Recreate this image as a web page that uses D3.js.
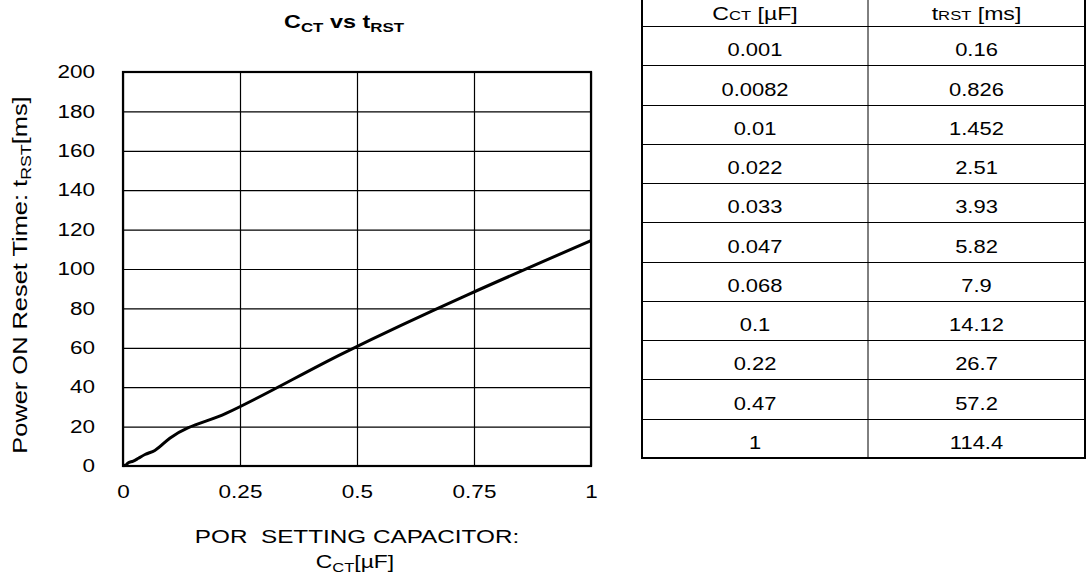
<!DOCTYPE html>
<html>
<head>
<meta charset="utf-8">
<script src="https://cdn.jsdelivr.net/npm/d3@7"></script>
<style>
  body { margin: 0; background: #fff; }
  svg { font-family: "Liberation Sans", Arial, sans-serif; }
</style>
</head>
<body>
<svg id="chart" width="1088" height="578"></svg>
<script>
var cct = [0.001, 0.0082, 0.01, 0.022, 0.033, 0.047, 0.068, 0.1, 0.22, 0.47, 1];
var trst = [0.16, 0.826, 1.452, 2.51, 3.93, 5.82, 7.9, 14.12, 26.7, 57.2, 114.4];
var cctLabels = ['0.001', '0.0082', '0.01', '0.022', '0.033', '0.047', '0.068', '0.1', '0.22', '0.47', '1'];
var trstLabels = ['0.16', '0.826', '1.452', '2.51', '3.93', '5.82', '7.9', '14.12', '26.7', '57.2', '114.4'];
var xTicks = [0, 0.25, 0.5, 0.75, 1];
var yTicks = [0, 20, 40, 60, 80, 100, 120, 140, 160, 180, 200];

var svg = d3.select('#chart');

// 文字横向拉宽（原图字体较宽）
function stretch(sel, s) {
    sel.each(function () {
        var t = d3.select(this);
        var x0 = +t.attr('x') || 0, y0 = +t.attr('y') || 0;
        var tr = t.attr('transform') || '';
        t.attr('x', 0).attr('y', 0)
            .attr('transform', tr + ' translate(' + x0 + ',' + y0 + ') scale(' + s + ',1)');
    });
}

var plot = { left: 123, top: 72, right: 591, bottom: 466 };

var x = d3.scaleLinear().domain([0, 1]).range([plot.left, plot.right]);
var y = d3.scaleLinear().domain([0, 200]).range([plot.bottom, plot.top]);

// 网格
svg.append('g')
    .attr('transform', 'translate(0,' + plot.bottom + ')')
    .call(d3.axisBottom(x).tickValues(xTicks).tickSize(-(plot.bottom - plot.top)).tickFormat(''))
    .call(g => g.select('.domain').remove())
    .selectAll('line').attr('stroke', '#000').attr('stroke-width', 1.2);

svg.append('g')
    .attr('transform', 'translate(' + plot.left + ',0)')
    .call(d3.axisLeft(y).tickValues(yTicks).tickSize(-(plot.right - plot.left)).tickFormat(''))
    .call(g => g.select('.domain').remove())
    .selectAll('line').attr('stroke', '#000').attr('stroke-width', 1.2);

// 边框
svg.append('rect')
    .attr('x', plot.left).attr('y', plot.top)
    .attr('width', plot.right - plot.left).attr('height', plot.bottom - plot.top)
    .attr('fill', 'none').attr('stroke', '#000').attr('stroke-width', 2.2);

// tick labels
var xLab = svg.append('g')
    .attr('transform', 'translate(0,' + plot.bottom + ')')
    .call(d3.axisBottom(x).tickValues(xTicks).tickSize(0).tickPadding(19).tickFormat(d => d))
    .call(g => g.select('.domain').remove())
    .selectAll('text').attr('font-size', 18).attr('fill', '#000')
    .attr('font-family', '"Liberation Sans", Arial, sans-serif');
stretch(xLab, 1.25);

var yLab = svg.append('g')
    .attr('transform', 'translate(' + plot.left + ',0)')
    .call(d3.axisLeft(y).tickValues(yTicks).tickSize(0).tickPadding(28).tickFormat(d => d))
    .call(g => g.select('.domain').remove())
    .selectAll('text').attr('font-size', 18).attr('fill', '#000')
    .attr('font-family', '"Liberation Sans", Arial, sans-serif');
stretch(yLab, 1.25);

// curve
var pts = cct.map((c, i) => [c, trst[i]]);
svg.append('path')
    .datum(pts)
    .attr('fill', 'none')
    .attr('stroke', '#000')
    .attr('stroke-width', 3)
    .attr('stroke-linejoin', 'round')
    .attr('d', d3.line().x(d => x(d[0])).y(d => y(d[1])).curve(d3.curveMonotoneX));

// title
var title = svg.append('text')
    .attr('x', 344).attr('y', 28)
    .attr('text-anchor', 'middle')
    .attr('font-size', 18).attr('font-weight', 'bold');
title.append('tspan').text('C');
title.append('tspan').attr('font-size', 13).attr('dy', 4).text('CT');
title.append('tspan').attr('dy', -4).text(' vs t');
title.append('tspan').attr('font-size', 13).attr('dy', 4).text('RST');
stretch(title, 1.3);

// y title
var yt = svg.append('text')
    .attr('transform', 'translate(27,275) rotate(-90)')
    .attr('text-anchor', 'middle')
    .attr('font-size', 20);
yt.append('tspan').text('Power ON Reset Time: t');
yt.append('tspan').attr('font-size', 14).attr('dy', 4).text('RST');
yt.append('tspan').attr('dy', -4).text('[ms]');
stretch(yt, 1.27);

// x title
var xt1 = svg.append('text')
    .attr('x', 357).attr('y', 543)
    .attr('text-anchor', 'middle')
    .attr('font-size', 18)
    .attr('xml:space', 'preserve')
    .text('POR  SETTING CAPACITOR:');
stretch(xt1, 1.35);
var xt2 = svg.append('text')
    .attr('x', 355).attr('y', 568)
    .attr('text-anchor', 'middle')
    .attr('font-size', 18);
xt2.append('tspan').text('C');
xt2.append('tspan').attr('font-size', 13).attr('dy', 4).text('CT');
xt2.append('tspan').attr('dy', -4).text('[µF]');
stretch(xt2, 1.27);

// 表格：表头在上方被裁掉一部分，数据行等高
var tb = { left: 642, mid: 868, right: 1085, top: -1, headerBottom: 26, bottom: 458 };
var rowY = d3.scaleBand().domain(d3.range(cct.length)).range([tb.headerBottom, tb.bottom]);

var table = svg.append('g');
table.append('rect')
    .attr('x', tb.left).attr('y', tb.top)
    .attr('width', tb.right - tb.left).attr('height', tb.bottom - tb.top)
    .attr('fill', 'none').attr('stroke', '#000').attr('stroke-width', 2);
table.append('line')
    .attr('x1', tb.mid).attr('x2', tb.mid).attr('y1', tb.top).attr('y2', tb.bottom)
    .attr('stroke', '#000').attr('stroke-width', 1);
table.selectAll('.rowline')
    .data(d3.range(cct.length))
    .enter().append('line')
    .attr('x1', tb.left).attr('x2', tb.right)
    .attr('y1', d => Math.round(rowY(d)) + 0.5).attr('y2', d => Math.round(rowY(d)) + 0.5)
    .attr('stroke', '#000').attr('stroke-width', 1);

var c1 = (tb.left + tb.mid) / 2, c2 = (tb.mid + tb.right) / 2;
var h1 = table.append('text').attr('x', c1).attr('y', 20)
    .attr('text-anchor', 'middle').attr('font-size', 18);
h1.append('tspan').text('C');
h1.append('tspan').attr('font-size', 13).text('CT');
h1.append('tspan').text(' [µF]');
stretch(h1, 1.28);
var h2 = table.append('text').attr('x', c2).attr('y', 20)
    .attr('text-anchor', 'middle').attr('font-size', 18);
h2.append('tspan').text('t');
h2.append('tspan').attr('font-size', 13).text('RST');
h2.append('tspan').text(' [ms]');
stretch(h2, 1.28);

// Excel 默认底部对齐
function cellY(i) { return rowY(i) + rowY.bandwidth() - 9; }

var t1 = table.selectAll('.c1')
    .data(cctLabels)
    .enter().append('text')
    .attr('x', c1).attr('y', (d, i) => cellY(i))
    .attr('text-anchor', 'middle').attr('font-size', 18)
    .text(d => d);
stretch(t1, 1.22);
var t2 = table.selectAll('.c2')
    .data(trstLabels)
    .enter().append('text')
    .attr('x', c2).attr('y', (d, i) => cellY(i))
    .attr('text-anchor', 'middle').attr('font-size', 18)
    .text(d => d);
stretch(t2, 1.22);
</script>
</body>
</html>
